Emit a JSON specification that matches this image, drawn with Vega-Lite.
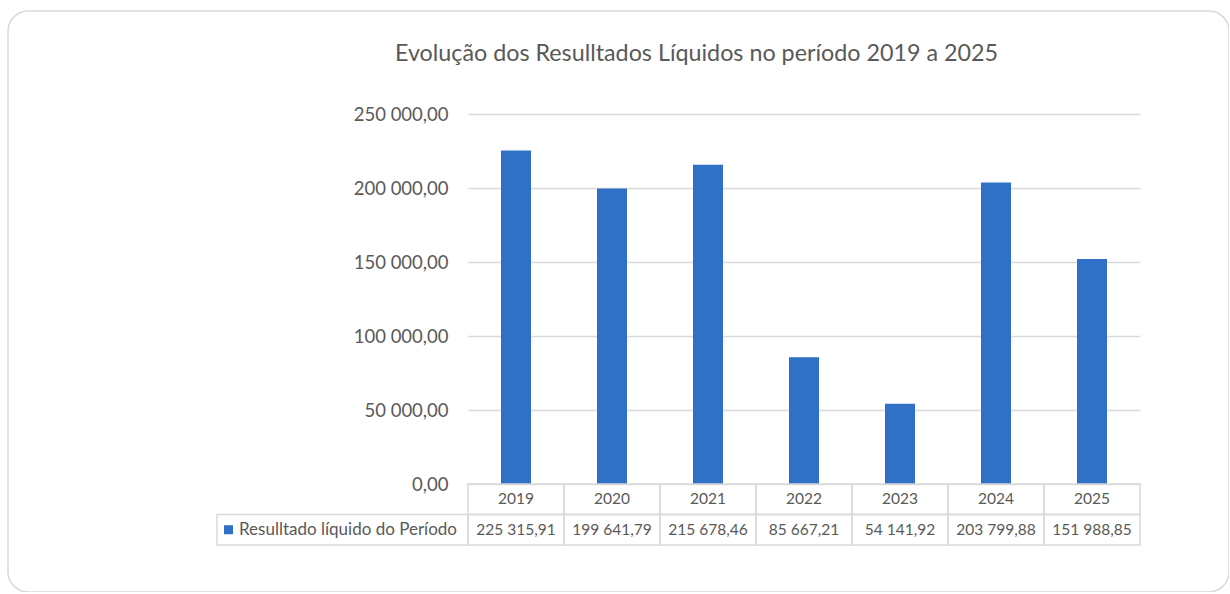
{
  "$schema": "https://vega.github.io/schema/vega-lite/v6.json",
  "width": 1221,
  "height": 581,
  "autosize": {"type": "none"},
  "padding": {"left": 8, "top": 11, "right": 0, "bottom": 0},
  "background": "white",
  "config": {
    "font": "Lato",
    "view": {"stroke": "#d9d9d9", "strokeWidth": 1.5, "cornerRadius": 20},
    "locale": {"number": {"decimal": ",", "thousands": " ", "grouping": [3], "currency": ["", ""]}}
  },
  "title": {
    "text": "Evolução dos Resulltados Líquidos no período 2019 a 2025",
    "fontSize": 23.3,
    "fontWeight": "normal",
    "color": "#595959",
    "anchor": "middle",
    "frame": "group",
    "dx": 78,
    "offset": -73,
    "baseline": "alphabetic"
  },
  "datasets": {
    "resultados": [
      {"ano": "2019", "resultado": 225315.91},
      {"ano": "2020", "resultado": 199641.79},
      {"ano": "2021", "resultado": 215678.46},
      {"ano": "2022", "resultado": 85667.21},
      {"ano": "2023", "resultado": 54141.92},
      {"ano": "2024", "resultado": 203799.88},
      {"ano": "2025", "resultado": 151988.85}
    ]
  },
  "data": {"name": "resultados"},
  "resolve": {"scale": {"x": "independent", "y": "independent"}},
  "layer": [
    {
      "layer": [
        {
          "mark": {"type": "bar", "color": "#3070C6"},
          "encoding": {
            "x": {
              "field": "ano", "type": "nominal",
              "scale": {"range": [460, 1132], "paddingInner": 0.6875, "paddingOuter": 0.34375},
              "axis": null
            },
            "y": {
              "field": "resultado", "type": "quantitative",
              "scale": {"domain": [0, 250000], "range": [473, 103], "nice": false},
              "axis": {
                "values": [0, 50000, 100000, 150000, 200000, 250000],
                "format": ",.2f",
                "offset": -460,
                "labelPadding": 20,
                "ticks": false,
                "domain": false,
                "grid": true,
                "gridColor": "#d9d9d9",
                "gridWidth": 1.5,
                "labelFontSize": 18.5,
                "labelColor": "#595959",
                "title": null
              }
            }
          }
        }
      ]
    },
    {
      "encoding": {
        "x": {
          "field": "ano", "type": "nominal",
          "scale": {"range": [460, 1132], "paddingInner": 0, "paddingOuter": 0},
          "axis": null
        }
      },
      "layer": [
        {
          "mark": {"type": "rect", "fill": "white", "fillOpacity": 0, "stroke": "#d9d9d9", "strokeWidth": 1.5},
          "encoding": {
            "y": {"datum": "Ano", "type": "nominal", "scale": {"domain": ["Ano", "Valor"], "range": [473, 534], "paddingInner": 0, "paddingOuter": 0}, "axis": null}
          }
        },
        {
          "mark": {"type": "rect", "fill": "white", "fillOpacity": 0, "stroke": "#d9d9d9", "strokeWidth": 1.5},
          "encoding": {
            "y": {"datum": "Valor", "type": "nominal"}
          }
        },
        {
          "mark": {"type": "text", "fontSize": 15.5, "color": "#595959", "align": "center", "baseline": "middle"},
          "encoding": {
            "y": {"datum": "Ano", "type": "nominal"},
            "text": {"field": "ano"}
          }
        },
        {
          "mark": {"type": "text", "fontSize": 15.5, "color": "#595959", "align": "center", "baseline": "middle"},
          "encoding": {
            "y": {"datum": "Valor", "type": "nominal"},
            "text": {"field": "resultado", "type": "quantitative", "format": ",.2f"}
          }
        }
      ]
    },
    {
      "data": {"values": [{"serie": "Resulltado líquido do Período"}]},
      "encoding": {
        "y": {"datum": "Valor", "type": "nominal", "scale": {"domain": ["Ano", "Valor"], "range": [473, 534], "paddingInner": 0, "paddingOuter": 0}, "axis": null}
      },
      "layer": [
        {
          "mark": {"type": "rect", "fill": "white", "fillOpacity": 0, "stroke": "#d9d9d9", "strokeWidth": 1.5},
          "encoding": {
            "x": {"field": "serie", "type": "nominal", "scale": {"range": [209, 460], "paddingInner": 0, "paddingOuter": 0}, "axis": null}
          }
        },
        {
          "mark": {"type": "point", "shape": "square", "filled": true, "size": 81, "color": "#3070C6", "opacity": 1, "xOffset": 11.5},
          "encoding": {
            "x": {"field": "serie", "type": "nominal", "bandPosition": 0}
          }
        },
        {
          "mark": {"type": "text", "fontSize": 17, "color": "#595959", "align": "left", "baseline": "middle", "dx": 22},
          "encoding": {
            "x": {"field": "serie", "type": "nominal", "bandPosition": 0},
            "text": {"field": "serie"}
          }
        }
      ]
    }
  ]
}
